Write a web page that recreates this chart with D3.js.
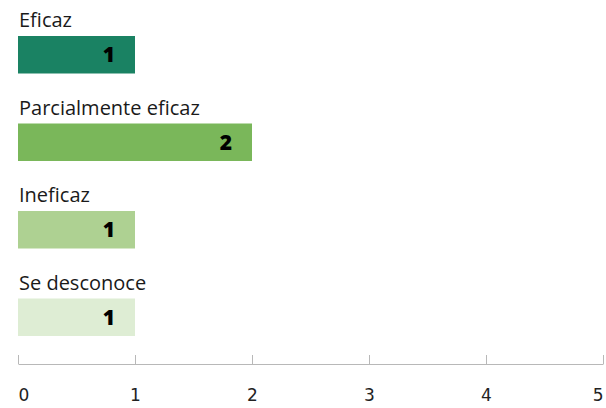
<!DOCTYPE html>
<html>
<head>
<meta charset="utf-8">
<script src="https://cdn.jsdelivr.net/npm/d3@7"></script>
<style>
  body { margin: 0; background: #fff; }
  svg { display: block; font-family: "Open Sans", Roboto, sans-serif; }
  .cat { font-size: 20px; fill: #1a1a1a; }
  .val { font-size: 21px; font-weight: 800; fill: #000; }
  .axis path, .axis line { stroke: #b8b8b8; }
  .axis text { font-size: 17px; fill: #222; font-family: "DejaVu Sans", sans-serif; }
</style>
</head>
<body>
<svg id="chart" width="606" height="408"></svg>
<script>
// datos
var categorias = ["Eficaz", "Parcialmente eficaz", "Ineficaz", "Se desconoce"];
var valores = [1, 2, 1, 1];
var colores = ["#1a8263", "#7ab75a", "#aed192", "#deedd4"];
var ticks = [0, 1, 2, 3, 4, 5];

var svg = d3.select("#chart"),
    margin = { top: 36, right: 3, bottom: 44, left: 18 },
    width = +svg.attr("width") - margin.left - margin.right,
    height = +svg.attr("height") - margin.top - margin.bottom;

var altoBarra = 37.5;

var x = d3.scaleLinear().domain([0, 5]).range([0, width]);
// cada fila ocupa 87.5px (etiqueta + barra)
var y = d3.scaleBand().domain(categorias).range([0, 87.5 * categorias.length]);

var g = svg.append("g")
    .attr("transform", "translate(" + margin.left + "," + margin.top + ")");

var filas = g.selectAll(".fila")
    .data(categorias)
  .enter().append("g")
    .attr("class", "fila");

// barras
filas.append("rect")
    .attr("x", 0)
    .attr("y", function(d) { return y(d); })
    .attr("width", function(d, i) { return x(valores[i]); })
    .attr("height", altoBarra)
    .attr("fill", function(d, i) { return colores[i]; });

// nombre encima de cada barra
filas.append("text")
    .attr("class", "cat")
    .attr("x", 1)
    .attr("y", function(d) { return y(d) - 9; })
    .text(function(d) { return d; });

// valor dentro de la barra
filas.append("text")
    .attr("class", "val")
    .attr("x", function(d, i) { return x(valores[i]) - 20; })
    .attr("y", function(d) { return y(d) + altoBarra / 2; })
    .attr("dy", "0.36em")
    .attr("text-anchor", "end")
    .text(function(d, i) { return valores[i]; });

// eje x
var eje = g.append("g")
    .attr("class", "axis")
    .attr("transform", "translate(0," + height + ")")
    .call(d3.axisTop(x).tickValues(ticks).tickFormat(d3.format("d")).tickSize(9).tickSizeOuter(0));

eje.selectAll(".tick text")
    .attr("y", 32)
    .attr("dy", "0.32em")
    .attr("text-anchor", function(d, i) { return i === 0 ? "start" : (i === ticks.length - 1 ? "end" : "middle"); });
</script>
</body>
</html>
